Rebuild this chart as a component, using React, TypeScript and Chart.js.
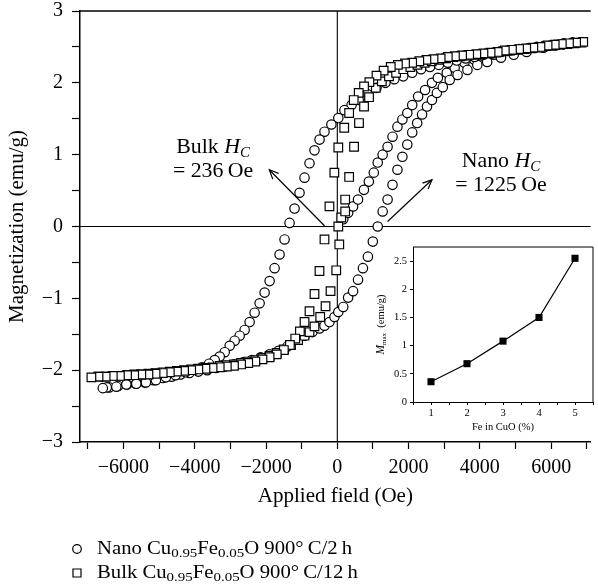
import React, { useEffect, useRef } from "react";
import { Chart, registerables } from "chart.js";
Chart.register(...registerables);

const SERIF = '"Liberation Serif", "Times New Roman", serif';

// ---------------- Main plot data (Applied field in Oe, Magnetization in emu/g) ----------------
// Nano Cu0.95Fe0.05O — initial (virgin) curve
const nanoVirginH = [166, 304, 443, 581, 747, 885, 1024, 1134, 1272, 1411, 1549, 1687, 1826, 1964, 2102, 2268, 2462, 2656, 2822, 3071, 3292, 3568, 3845, 4122, 4398];
const nanoVirginM = [0.10, 0.19, 0.28, 0.375, 0.51, 0.625, 0.75, 0.89, 1.0, 1.11, 1.25, 1.39, 1.49, 1.58, 1.69, 1.81, 1.90, 2.0, 2.07, 2.14, 2.21, 2.28, 2.32, 2.36, 2.39];

// Nano — descending branch
const nanoDescH = [6600, 6350, 6100, 5850, 5600, 5350, 5100, 4850, 4600, 4350, 4100, 3850, 3600, 3350, 3100, 2850, 2600, 2350, 2100, 1850, 1600, 1350, 1100, 850, 600, 400, 200, 28, -166, -360, -498, -640, -780, -920, -1060, -1200, -1340, -1480, -1620, -1760, -1900, -2040, -2180, -2320, -2460, -2600, -2740, -2880, -3020, -3160, -3300, -3440, -3600, -3800, -4000, -4260, -4540, -4810, -5090, -5370, -5640, -5920, -6200, -6470, -6580];
const nanoDescM = [2.56, 2.55, 2.53, 2.51, 2.50, 2.48, 2.47, 2.45, 2.43, 2.41, 2.39, 2.36, 2.34, 2.31, 2.28, 2.25, 2.22, 2.19, 2.14, 2.09, 2.05, 2.0, 1.93, 1.84, 1.76, 1.69, 1.62, 1.51, 1.42, 1.32, 1.21, 1.06, 0.88, 0.68, 0.47, 0.25, 0.05, -0.18, -0.39, -0.58, -0.76, -0.92, -1.07, -1.20, -1.33, -1.44, -1.52, -1.59, -1.66, -1.75, -1.81, -1.86, -1.91, -1.96, -1.99, -2.03, -2.07, -2.10, -2.14, -2.17, -2.19, -2.20, -2.23, -2.24, -2.25];

// Nano — ascending branch
const nanoAscH = [-6400, -6150, -5900, -5650, -5400, -5150, -4900, -4650, -4400, -4150, -3900, -3650, -3400, -3150, -2900, -2650, -2400, -2150, -1900, -1650, -1400, -1150, -920, -700, -500, -360, -221, -80, 28, 166, 304, 443, 581, 719, 858, 996, 1134, 1272, 1411, 1549, 1687, 1826, 1964, 2102, 2241, 2379, 2517, 2656, 2794, 2960, 3154, 3375, 3651, 3928, 4205, 4592, 4951, 5311, 5781, 6100, 6350, 6600];
const nanoAscM = [-2.24, -2.22, -2.20, -2.19, -2.17, -2.14, -2.11, -2.09, -2.06, -2.04, -2.02, -2.00, -1.97, -1.95, -1.92, -1.89, -1.86, -1.82, -1.78, -1.73, -1.67, -1.57, -1.52, -1.47, -1.42, -1.38, -1.33, -1.26, -1.19, -1.12, -0.99, -0.90, -0.74, -0.58, -0.42, -0.21, 0.0, 0.21, 0.375, 0.58, 0.79, 0.97, 1.14, 1.31, 1.44, 1.56, 1.67, 1.76, 1.86, 1.94, 2.04, 2.11, 2.18, 2.25, 2.29, 2.35, 2.39, 2.43, 2.49, 2.52, 2.54, 2.56];

// Bulk Cu0.95Fe0.05O — initial points
const bulkVirginH = [28, 110, 221];
const bulkVirginM = [0.0, 0.125, 0.21];

// Bulk — descending branch
const bulkDescH = [6900, 6700, 6500, 6300, 6100, 5900, 5700, 5500, 5300, 5100, 4900, 4700, 4500, 4300, 4100, 3900, 3700, 3500, 3300, 3100, 2900, 2700, 2500, 2300, 2100, 1900, 1700, 1500, 1300, 1100, 900, 750, 600, 460, 332, 194, 28, -83, -221, -360, -500, -640, -780, -920, -1050, -1180, -1330, -1500, -1700, -1900, -2100, -2300, -2500, -2700, -2900, -3100, -3300, -3500, -3700, -3900, -4100, -4300, -4500, -4700, -4900, -5100, -5300, -5500, -5700, -5900, -6100, -6300, -6500, -6700, -6900];
const bulkDescM = [2.57, 2.56, 2.55, 2.54, 2.53, 2.52, 2.50, 2.49, 2.48, 2.47, 2.46, 2.45, 2.43, 2.42, 2.41, 2.40, 2.39, 2.38, 2.37, 2.36, 2.34, 2.33, 2.32, 2.30, 2.28, 2.27, 2.25, 2.22, 2.17, 2.10, 2.01, 1.95, 1.86, 1.76, 1.58, 1.375, 1.10, 0.75, 0.28, -0.18, -0.62, -0.94, -1.18, -1.33, -1.46, -1.56, -1.65, -1.72, -1.78, -1.82, -1.85, -1.88, -1.90, -1.92, -1.94, -1.95, -1.96, -1.97, -1.98, -1.99, -2.00, -2.01, -2.02, -2.03, -2.04, -2.05, -2.06, -2.06, -2.07, -2.07, -2.08, -2.08, -2.09, -2.09, -2.10];

// Bulk — ascending branch
const bulkAscH = [-6700, -6500, -6300, -6100, -5900, -5700, -5500, -5300, -5100, -4900, -4700, -4500, -4300, -4100, -3900, -3700, -3500, -3300, -3100, -2900, -2700, -2500, -2300, -2100, -1900, -1700, -1500, -1300, -1100, -920, -780, -640, -480, -330, -190, -30, 55, 221, 332, 470, 609, 750, 890, 1080, 1250, 1450, 1650, 1850, 2050, 2250, 2450, 2650, 2850, 3050, 3250, 3450, 3650, 3850, 4050, 4250, 4450, 4650, 4850, 5050, 5250, 5450, 5650, 5850, 6050, 6250, 6450, 6650, 6850];
const bulkAscM = [-2.09, -2.09, -2.08, -2.08, -2.07, -2.06, -2.06, -2.05, -2.04, -2.03, -2.02, -2.01, -2.00, -1.99, -1.98, -1.97, -1.96, -1.94, -1.93, -1.92, -1.90, -1.88, -1.86, -1.83, -1.80, -1.76, -1.71, -1.65, -1.58, -1.52, -1.47, -1.39, -1.26, -1.11, -0.90, -0.61, -0.25, 0.375, 0.69, 1.11, 1.44, 1.67, 1.80, 1.93, 2.02, 2.09, 2.14, 2.19, 2.22, 2.25, 2.28, 2.30, 2.32, 2.34, 2.36, 2.37, 2.38, 2.39, 2.40, 2.41, 2.42, 2.44, 2.45, 2.46, 2.47, 2.48, 2.49, 2.51, 2.52, 2.53, 2.54, 2.55, 2.56];

// Axis tick values
const xTickLabels = [-6000, -4000, -2000, 0, 2000, 4000, 6000];
const xTicksMinor = 1000;
const yTicksMinor = 0.5;

// Annotations (data coordinates)
const bulkLabelPos = { h: -3485, m1: 1.03, m2: 0.69 };
const bulkArrowFrom = { h: -360, m: 0.01 };
const bulkArrowTo = { h: -1909, m: 0.79 };
const nanoLabelPos = { h: 4592, m1: 0.83, m2: 0.49 };
const nanoArrowFrom = { h: 1411, m: 0.07 };
const nanoArrowTo = { h: 2656, m: 0.65 };

// ---------------- Inset data ----------------
const insetFe = [1, 2, 3, 4, 5];
const insetMmax = [0.36, 0.68, 1.08, 1.5, 2.55];

type Pt = { x: number; y: number };
function zip(h: number[], m: number[]): Pt[] {
  const n = Math.min(h.length, m.length);
  const out: Pt[] = [];
  for (let i = 0; i < n; i++) out.push({ x: h[i], y: m[i] });
  return out;
}

const fmt = (v: number) => (v < 0 ? "\u2212" + Math.abs(v) : String(v));

type Part = { t: string; italic?: boolean; size: number; dy?: number };
function drawParts(ctx: CanvasRenderingContext2D, parts: Part[], x: number, y: number, align: "left" | "center", sx = 1) {
  ctx.save();
  ctx.textBaseline = "alphabetic";
  ctx.textAlign = "left";
  ctx.fillStyle = "#000";
  const widths = parts.map((p) => {
    ctx.font = `${p.italic ? "italic " : ""}${p.size}px ${SERIF}`;
    return ctx.measureText(p.t).width;
  });
  const total = widths.reduce((a, b) => a + b, 0) * sx;
  const startX = align === "center" ? x - total / 2 : x;
  ctx.translate(startX, y);
  ctx.scale(sx, 1);
  let px = 0;
  parts.forEach((p, i) => {
    ctx.font = `${p.italic ? "italic " : ""}${p.size}px ${SERIF}`;
    ctx.fillText(p.t, px, p.dy || 0);
    px += widths[i];
  });
  ctx.restore();
}

function arrow(ctx: CanvasRenderingContext2D, x1: number, y1: number, x2: number, y2: number) {
  ctx.save();
  ctx.strokeStyle = "#000";
  ctx.lineWidth = 1.2;
  ctx.beginPath();
  ctx.moveTo(x1, y1);
  ctx.lineTo(x2, y2);
  ctx.stroke();
  const a = Math.atan2(y2 - y1, x2 - x1);
  const L = 10;
  const w = 0.42;
  ctx.beginPath();
  ctx.moveTo(x2 - L * Math.cos(a - w), y2 - L * Math.sin(a - w));
  ctx.lineTo(x2, y2);
  ctx.lineTo(x2 - L * Math.cos(a + w), y2 - L * Math.sin(a + w));
  ctx.stroke();
  ctx.restore();
}

const mainPlugin = {
  id: "mainDecor",
  beforeDatasetsDraw(chart: any) {
    const { ctx, chartArea, scales } = chart;
    const x0 = scales.x.getPixelForValue(0);
    const y0 = scales.y.getPixelForValue(0);
    ctx.save();
    ctx.strokeStyle = "#000";
    ctx.lineWidth = 1.1;
    ctx.beginPath();
    ctx.moveTo(x0, chartArea.top);
    ctx.lineTo(x0, chartArea.bottom);
    ctx.moveTo(chartArea.left, y0);
    ctx.lineTo(chartArea.right, y0);
    ctx.stroke();
    ctx.lineWidth = 1.5;
    ctx.beginPath();
    ctx.moveTo(chartArea.left, chartArea.top);
    ctx.lineTo(chartArea.right, chartArea.top);
    ctx.stroke();
    ctx.restore();
  },
  afterDatasetsDraw(chart: any) {
    const { ctx, scales } = chart;
    const X = (v: number) => scales.x.getPixelForValue(v);
    const Y = (v: number) => scales.y.getPixelForValue(v);
    drawParts(ctx, [{ t: "Bulk ", size: 21 }, { t: "H", size: 21, italic: true }, { t: "C", size: 14.5, italic: true, dy: 4 }], X(bulkLabelPos.h), Y(bulkLabelPos.m1), "center", 1.04);
    drawParts(ctx, [{ t: "= 236\u2009Oe", size: 21 }], X(bulkLabelPos.h), Y(bulkLabelPos.m2), "center", 1.04);
    drawParts(ctx, [{ t: "Nano ", size: 21 }, { t: "H", size: 21, italic: true }, { t: "C", size: 14.5, italic: true, dy: 4 }], X(nanoLabelPos.h), Y(nanoLabelPos.m1), "center", 1.04);
    drawParts(ctx, [{ t: "= 1225\u2009Oe", size: 21 }], X(nanoLabelPos.h), Y(nanoLabelPos.m2), "center", 1.04);
    arrow(ctx, X(bulkArrowFrom.h), Y(bulkArrowFrom.m), X(bulkArrowTo.h), Y(bulkArrowTo.m));
    arrow(ctx, X(nanoArrowFrom.h), Y(nanoArrowFrom.m), X(nanoArrowTo.h), Y(nanoArrowTo.m));
  },
  afterDraw(chart: any) {
    const { ctx, scales, chartArea } = chart;
    // x tick labels
    ctx.save();
    ctx.fillStyle = "#000";
    ctx.font = `20px ${SERIF}`;
    ctx.textAlign = "center";
    ctx.textBaseline = "alphabetic";
    xTickLabels.forEach((v) => {
      ctx.fillText(fmt(v), scales.x.getPixelForValue(v), chartArea.bottom + 31);
    });
    ctx.restore();
    // legend
    ctx.save();
    ctx.strokeStyle = "#000";
    ctx.fillStyle = "#fff";
    ctx.lineWidth = 1.2;
    ctx.beginPath();
    ctx.arc(77, 549, 4.3, 0, Math.PI * 2);
    ctx.fill();
    ctx.stroke();
    ctx.beginPath();
    ctx.rect(73, 569, 8, 8);
    ctx.fill();
    ctx.stroke();
    ctx.restore();
    const sx = 1.15;
    drawParts(ctx, [
      { t: "Nano Cu", size: 18 }, { t: "0.95", size: 13, dy: 3 }, { t: "Fe", size: 18 }, { t: "0.05", size: 13, dy: 3 }, { t: "O 900\u00b0\u2009C/2\u2009h", size: 18 },
    ], 97, 554, "left", sx);
    drawParts(ctx, [
      { t: "Bulk Cu", size: 18 }, { t: "0.95", size: 13, dy: 3 }, { t: "Fe", size: 18 }, { t: "0.05", size: 13, dy: 3 }, { t: "O 900\u00b0\u2009C/12\u2009h", size: 18 },
    ], 97, 578, "left", sx);
  },
};

const insetPlugin = {
  id: "insetDecor",
  afterDraw(chart: any) {
    const { ctx, chartArea } = chart;
    ctx.save();
    ctx.strokeStyle = "#000";
    ctx.lineWidth = 1;
    ctx.beginPath();
    ctx.moveTo(chartArea.left, chartArea.top);
    ctx.lineTo(chartArea.right, chartArea.top);
    ctx.lineTo(chartArea.right, chartArea.bottom);
    ctx.stroke();
    ctx.restore();
    ctx.save();
    ctx.translate(chartArea.left - 29, (chartArea.top + chartArea.bottom) / 2);
    ctx.rotate(-Math.PI / 2);
    drawParts(ctx, [{ t: "M", size: 11.5, italic: true }, { t: "max", size: 7, dy: 2 }, { t: "  (emu/g)", size: 10.5 }], 0, 0, "center");
    ctx.restore();
  },
};

export default function App() {
  const mainRef = useRef<HTMLCanvasElement | null>(null);
  const insetRef = useRef<HTMLCanvasElement | null>(null);

  useEffect(() => {
    if (!mainRef.current || !insetRef.current) return;
    const rectStyle = { pointStyle: "rect", pointRadius: 6.1, pointBorderWidth: 1.2, pointBorderColor: "#000", pointBackgroundColor: "#fff", showLine: false };
    const circStyle = { pointStyle: "circle", pointRadius: 4.7, pointBorderWidth: 1.2, pointBorderColor: "#000", pointBackgroundColor: "#fff", showLine: false };
    const main = new Chart(mainRef.current, {
      type: "scatter",
      data: {
        datasets: [
          { label: "Bulk desc", data: zip(bulkDescH, bulkDescM), ...rectStyle },
          { label: "Bulk asc", data: zip(bulkAscH, bulkAscM), ...rectStyle },
          { label: "Bulk init", data: zip(bulkVirginH, bulkVirginM), ...rectStyle },
          { label: "Nano desc", data: zip(nanoDescH, nanoDescM), ...circStyle },
          { label: "Nano asc", data: zip(nanoAscH, nanoAscM), ...circStyle },
          { label: "Nano init", data: zip(nanoVirginH, nanoVirginM), ...circStyle },
        ] as any,
      },
      options: {
        animation: false,
        responsive: false,
        maintainAspectRatio: false,
        events: [],
        layout: { padding: { top: 11, left: 0, right: 0, bottom: 78 } },
        plugins: { legend: { display: false }, tooltip: { enabled: false } },
        scales: {
          x: {
            type: "linear",
            min: -7220,
            max: 7110,
            afterFit: (s: any) => { s.height = 68; },
            afterBuildTicks: (s: any) => {
              const t = [];
              for (let v = -7000; v <= 7000; v += xTicksMinor) t.push({ value: v });
              s.ticks = t;
            },
            ticks: {
              autoSkip: false,
              maxRotation: 0,
              color: "#000",
              font: { family: SERIF, size: 20 },
              padding: 6,
              callback: () => "",
            },
            grid: { drawOnChartArea: false, drawTicks: true, tickLength: 7, tickColor: "#000", tickWidth: 1.2 },
            border: { display: true, color: "#000", width: 1.5 },
            title: { display: true, text: "Applied field (Oe)", color: "#000", font: { family: SERIF, size: 21 }, padding: { top: 0, bottom: 1 } },
          },
          y: {
            type: "linear",
            min: -3,
            max: 3,
            afterFit: (s: any) => { s.width = 80; },
            ticks: {
              stepSize: yTicksMinor,
              includeBounds: false,
              autoSkip: false,
              color: "#000",
              font: { family: SERIF, size: 20, lineHeight: 0.1 },
              padding: 9,
              callback: (v: any) => (Number.isInteger(Number(v)) ? fmt(Number(v)) : ""),
            },
            grid: { drawOnChartArea: false, drawTicks: true, tickLength: 8, tickColor: "#000", tickWidth: 1.2 },
            border: { display: true, color: "#000", width: 1.5 },
            title: { display: true, text: "Magnetization (emu/g)", color: "#000", font: { family: SERIF, size: 21 }, padding: { top: 5, bottom: 0 } },
          },
        },
      } as any,
      plugins: [mainPlugin],
    });

    const inset = new Chart(insetRef.current, {
      type: "line",
      data: {
        datasets: [
          {
            data: zip(insetFe, insetMmax),
            borderColor: "#000",
            borderWidth: 1.2,
            pointStyle: "rect",
            pointRadius: 5,
            pointBackgroundColor: "#000",
            pointBorderColor: "#000",
            pointBorderWidth: 0,
            tension: 0,
          },
        ] as any,
      },
      options: {
        animation: false,
        responsive: false,
        maintainAspectRatio: false,
        events: [],
        layout: { padding: { top: 7, left: 0, right: 2, bottom: 0 } },
        plugins: { legend: { display: false }, tooltip: { enabled: false } },
        scales: {
          x: {
            type: "linear",
            min: 0.5,
            max: 5.5,
            afterFit: (s: any) => { s.height = 38; },
            ticks: {
              stepSize: 0.5,
              includeBounds: false,
              autoSkip: false,
              maxRotation: 0,
              color: "#000",
              font: { family: SERIF, size: 10.5 },
              padding: 2,
              callback: (v: any) => (Number.isInteger(Number(v)) ? String(v) : ""),
            },
            grid: { drawOnChartArea: false, drawTicks: true, tickLength: 3, tickColor: "#000", tickWidth: 1 },
            border: { display: true, color: "#000", width: 1 },
            title: { display: true, text: "Fe in CuO (%)", color: "#000", font: { family: SERIF, size: 10.5 }, padding: { top: 0, bottom: 6 } },
          },
          y: {
            type: "linear",
            min: 0,
            max: 2.75,
            afterFit: (s: any) => { s.width = 43; },
            ticks: {
              stepSize: 0.5,
              includeBounds: false,
              autoSkip: false,
              color: "#000",
              font: { family: SERIF, size: 10.5, lineHeight: 0.1 },
              padding: 3,
              callback: (v: any) => String(v),
            },
            grid: { drawOnChartArea: false, drawTicks: true, tickLength: 3, tickColor: "#000", tickWidth: 1 },
            border: { display: true, color: "#000", width: 1 },
          },
        },
      } as any,
      plugins: [insetPlugin],
    });

    return () => {
      main.destroy();
      inset.destroy();
    };
  }, []);

  return (
    <div style={{ position: "fixed", left: 0, top: 0, width: 598, height: 588, background: "#fff", overflow: "hidden" }}>
      <canvas ref={mainRef} width={598} height={588} style={{ position: "absolute", left: 0, top: 0, width: 598, height: 588 }} />
      <canvas ref={insetRef} width={228} height={200} style={{ position: "absolute", left: 370, top: 240, width: 228, height: 200 }} />
    </div>
  );
}
